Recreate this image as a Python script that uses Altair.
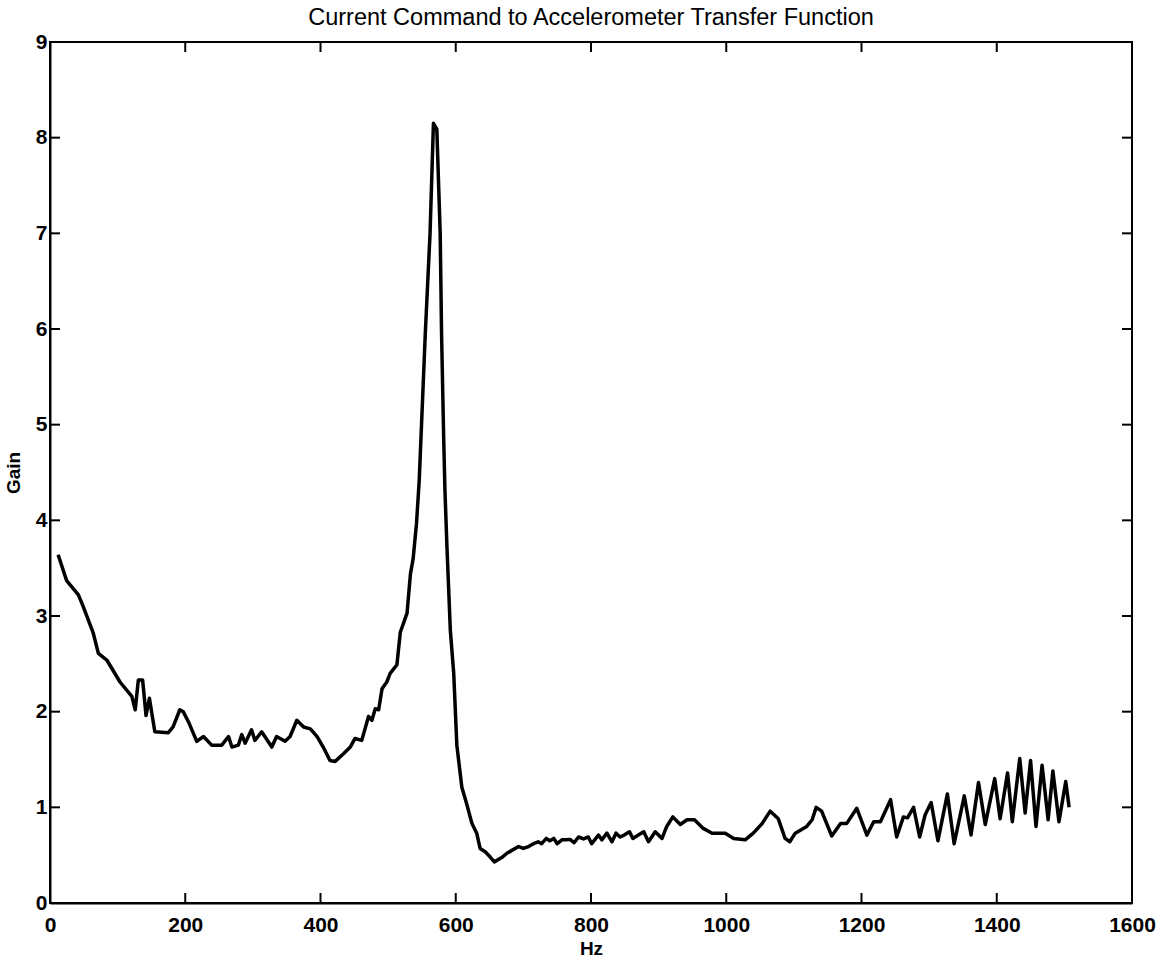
import altair as alt
import pandas as pd

# Frequency (Hz) and gain
hz = [12, 24.6, 42, 49, 64, 71.5, 84, 103.5, 121, 126, 130.6, 137, 142, 147, 155,
      175, 182, 192, 197, 205, 217, 227, 239, 254, 264, 269, 278.5, 283.6, 288.5,
      298, 303, 313, 328, 335, 347.6, 355, 365, 375, 385, 395, 404, 414, 421.6,
      434, 444, 451, 461, 471, 476, 481, 486, 491, 498, 503, 513, 518, 528, 533,
      537, 542, 546, 555, 562, 567, 572, 577, 579, 582, 584, 587, 592, 597, 601.6,
      609, 616, 624, 631, 636, 643.5, 651, 657, 668, 675.6, 683, 693, 700, 707.6,
      715, 722, 727, 734, 739, 745, 750, 757, 763, 769, 775, 781.5, 789, 796, 801,
      811, 816, 823.5, 831, 837, 843, 849, 857, 862, 870, 878, 885, 895, 905, 912,
      921, 932, 942, 953, 966, 979, 998.5, 1011, 1028, 1040, 1053, 1065, 1077,
      1087, 1094, 1102, 1119, 1127, 1133, 1141, 1156, 1169, 1178, 1193, 1208,
      1218, 1228, 1243, 1252, 1262, 1268, 1277, 1286, 1294, 1303, 1313, 1327,
      1337, 1352, 1362, 1373, 1383, 1397, 1405, 1416, 1423, 1434, 1442, 1450,
      1458, 1467, 1476, 1483, 1492, 1502, 1507]
gain = [3.64, 3.37, 3.22, 3.10, 2.82, 2.61, 2.54, 2.31, 2.16, 2.02, 2.33, 2.33, 1.96, 2.14, 1.79,
        1.78, 1.84, 2.02, 2.0, 1.89, 1.69, 1.74, 1.65, 1.65, 1.74, 1.63, 1.65, 1.76, 1.67,
        1.81, 1.70, 1.79, 1.63, 1.74, 1.69, 1.74, 1.91, 1.84, 1.82, 1.74, 1.63, 1.49, 1.48,
        1.56, 1.63, 1.72, 1.70, 1.95, 1.91, 2.03, 2.02, 2.24, 2.31, 2.40, 2.49, 2.83, 3.03, 3.44,
        3.60, 3.97, 4.42, 5.96, 7.0, 8.15, 8.09, 7.0, 5.96, 4.91, 4.32, 3.72, 2.85, 2.40, 1.65,
        1.21, 1.04, 0.83, 0.73, 0.57, 0.535, 0.48, 0.43, 0.475, 0.52, 0.55, 0.59, 0.57, 0.59,
        0.62, 0.64, 0.62, 0.675, 0.65, 0.675, 0.62, 0.66, 0.66, 0.665, 0.63, 0.69, 0.67, 0.69, 0.62,
        0.71, 0.66, 0.73, 0.64, 0.73, 0.69, 0.71, 0.745, 0.675, 0.71, 0.745, 0.64, 0.745, 0.675, 0.80,
        0.90, 0.82, 0.87, 0.87, 0.78, 0.73, 0.73, 0.675, 0.66, 0.73, 0.83, 0.96, 0.88,
        0.675, 0.64, 0.73, 0.80, 0.87, 1.0, 0.96, 0.70, 0.83, 0.83, 0.99, 0.71,
        0.85, 0.85, 1.08, 0.69, 0.90, 0.89, 1.0, 0.69, 0.92, 1.05, 0.65, 1.14,
        0.62, 1.12, 0.71, 1.26, 0.82, 1.30, 0.88, 1.36, 0.85, 1.51, 0.94, 1.49,
        0.80, 1.44, 0.87, 1.38, 0.85, 1.27, 1.0]

x_ticks = [0, 200, 400, 600, 800, 1000, 1200, 1400, 1600]
y_ticks = [0, 1, 2, 3, 4, 5, 6, 7, 8, 9]

W, H = 1082, 861
FONT = "Liberation Sans"

df = pd.DataFrame({"Hz": hz, "Gain": gain})
xt = pd.DataFrame({"v": x_ticks})
yt = pd.DataFrame({"v": y_ticks})

xscale = alt.Scale(domain=[0, 1600], nice=False, zero=False)
yscale = alt.Scale(domain=[0, 9], nice=False, zero=False)

line = alt.Chart(df).mark_line(color="black", strokeWidth=3.5, strokeJoin="round").encode(
    x=alt.X("Hz:Q", scale=xscale, title="Hz",
            axis=alt.Axis(values=x_ticks, format="d", ticks=False, tickSize=0, grid=False,
                          domainColor="black", domainWidth=2,
                          labelFont=FONT, labelFontSize=21, labelFontWeight="bold",
                          labelColor="black", labelPadding=11, labelFlush=False,
                          titleFont=FONT, titleFontSize=19, titleFontWeight="bold",
                          titleColor="black", titlePadding=4)),
    y=alt.Y("Gain:Q", scale=yscale, title="Gain",
            axis=alt.Axis(values=y_ticks, format="d", ticks=False, tickSize=0, grid=False,
                          domainColor="black", domainWidth=2,
                          labelFont=FONT, labelFontSize=21, labelFontWeight="bold",
                          labelColor="black", labelPadding=3, labelFlush=False,
                          titleFont=FONT, titleFontSize=19, titleFontWeight="bold",
                          titleColor="black", titlePadding=12)),
)

tick_len = 10
bottom_ticks = alt.Chart(xt).mark_rule(color="black", strokeWidth=2).encode(
    x=alt.X("v:Q", scale=xscale), y=alt.value(H), y2=alt.value(H - tick_len))
top_ticks = alt.Chart(xt).mark_rule(color="black", strokeWidth=2).encode(
    x=alt.X("v:Q", scale=xscale), y=alt.value(0), y2=alt.value(tick_len))
left_ticks = alt.Chart(yt).mark_rule(color="black", strokeWidth=2).encode(
    y=alt.Y("v:Q", scale=yscale), x=alt.value(0), x2=alt.value(tick_len))
right_ticks = alt.Chart(yt).mark_rule(color="black", strokeWidth=2).encode(
    y=alt.Y("v:Q", scale=yscale), x=alt.value(W), x2=alt.value(W - tick_len))

chart = alt.layer(line, bottom_ticks, top_ticks, left_ticks, right_ticks).properties(
    width=W, height=H,
    title=alt.TitleParams("Current Command to Accelerometer Transfer Function",
                          font=FONT, fontSize=23.5, fontWeight="normal", color="black",
                          anchor="middle", baseline="alphabetic", offset=6, dy=23),
    autosize=alt.AutoSizeParams(type="none"),
    padding={"left": 50, "top": 42, "right": 28, "bottom": 65},
    background="white",
).configure_view(stroke="black", strokeWidth=2)

chart.save("out.html", embed_options={"renderer": "svg", "actions": False})
